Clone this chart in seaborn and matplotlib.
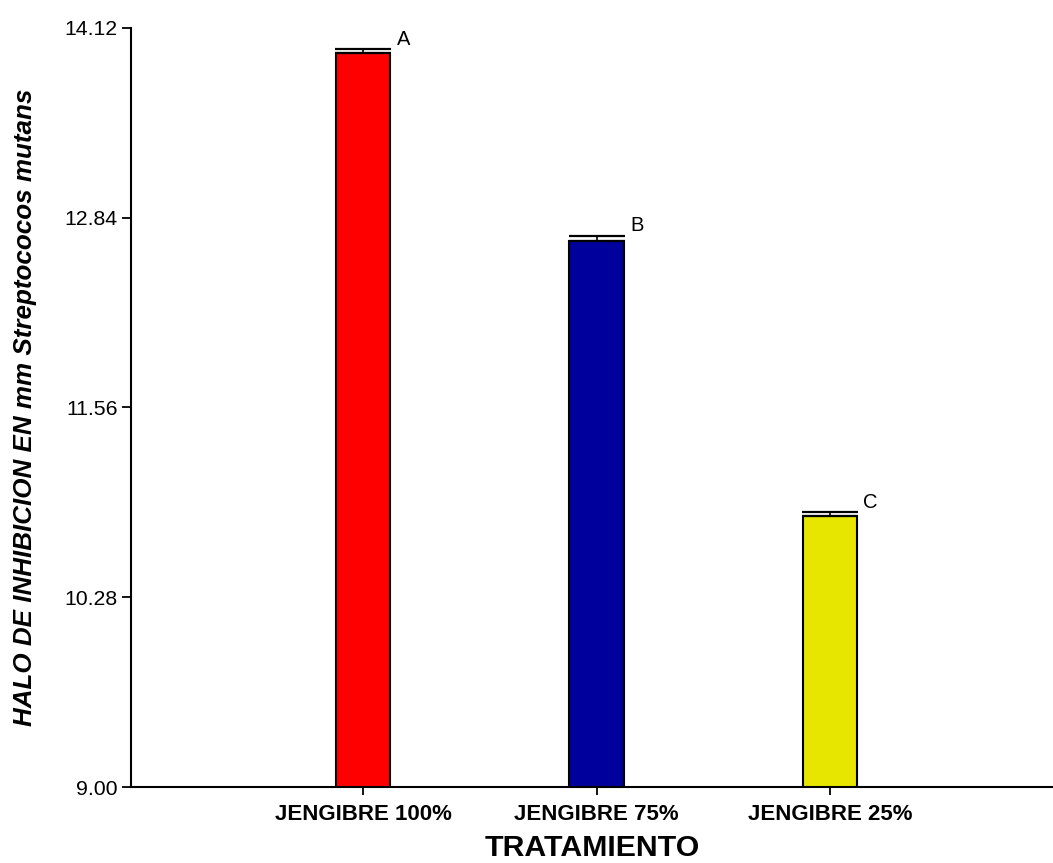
import matplotlib
matplotlib.use("Agg")
import matplotlib.pyplot as plt
import seaborn as sns
import pandas as pd

# Treatments and mean inhibition halo (mm) with their standard errors
tratamientos = ["JENGIBRE 100%", "JENGIBRE 75%", "JENGIBRE 25%"]
halo_mm = [13.95, 12.68, 10.83]
error_std = [0.025, 0.04, 0.025]
letras = ["A", "B", "C"]
colores = ["#FF0000", "#00009C", "#E6E600"]
yticks = [9.00, 10.28, 11.56, 12.84, 14.12]

sns.set_theme(style="white")
plt.rcParams["font.family"] = ["Liberation Sans", "DejaVu Sans"]
plt.rcParams.update({"text.color": "black", "axes.labelcolor": "black",
                     "xtick.color": "black", "ytick.color": "black"})

df = pd.DataFrame({"tratamiento": tratamientos, "halo": halo_mm})

fig = plt.figure(figsize=(10.53, 8.63), dpi=100)
ax = fig.add_axes([131 / 1053, 76 / 863, 922 / 1053, 759 / 863])

bar_w = 0.233
sns.barplot(data=df, x="tratamiento", y="halo", hue="tratamiento",
            palette=colores, legend=False, errorbar=None, width=bar_w,
            edgecolor="black", linewidth=1.5, saturation=1, ax=ax)

# upper-only error bars
pos = list(range(len(tratamientos)))
ax.errorbar(pos, halo_mm, yerr=[[0] * len(error_std), error_std], fmt="none",
            ecolor="black", elinewidth=1.2, capsize=20, capthick=1.6, zorder=3)

for x, v, e, t in zip(pos, halo_mm, error_std, letras):
    ax.annotate(t, xy=(x + bar_w / 2, v + e), xytext=(4.5, 3),
                textcoords="offset points", ha="left", va="baseline",
                fontsize=14.5, color="black")

ax.set_ylim(yticks[0], yticks[-1])
ax.set_xlim(-0.994, 2.955)
ax.set_yticks(yticks)
ax.set_yticklabels([f"{t:.2f}" for t in yticks], fontsize=15.3)
ax.set_xticks(pos)
ax.set_xticklabels(tratamientos, fontsize=16, fontweight="bold")

for side in ["top", "right"]:
    ax.spines[side].set_visible(False)
for side in ["left", "bottom"]:
    ax.spines[side].set_linewidth(1.5)
    ax.spines[side].set_color("black")

ax.tick_params(axis="y", direction="out", length=6.5, width=1.3,
               color="black", pad=3, left=True)
ax.tick_params(axis="x", direction="out", length=5.8, width=1.3,
               color="black", pad=6.5, bottom=True)

ax.set_xlabel("TRATAMIENTO", fontsize=21.8, fontweight="bold")
ax.xaxis.set_label_coords(0.5, -0.062)
ax.xaxis.label.set_verticalalignment("top")

ax.set_ylabel("HALO DE INHIBICION EN mm Streptococos mutans",
              fontsize=18.7, fontweight="bold", fontstyle="italic")
ax.yaxis.set_label_coords(-0.115, 0.5)
ax.yaxis.label.set_verticalalignment("center")

fig.savefig("out.png", dpi=100)
